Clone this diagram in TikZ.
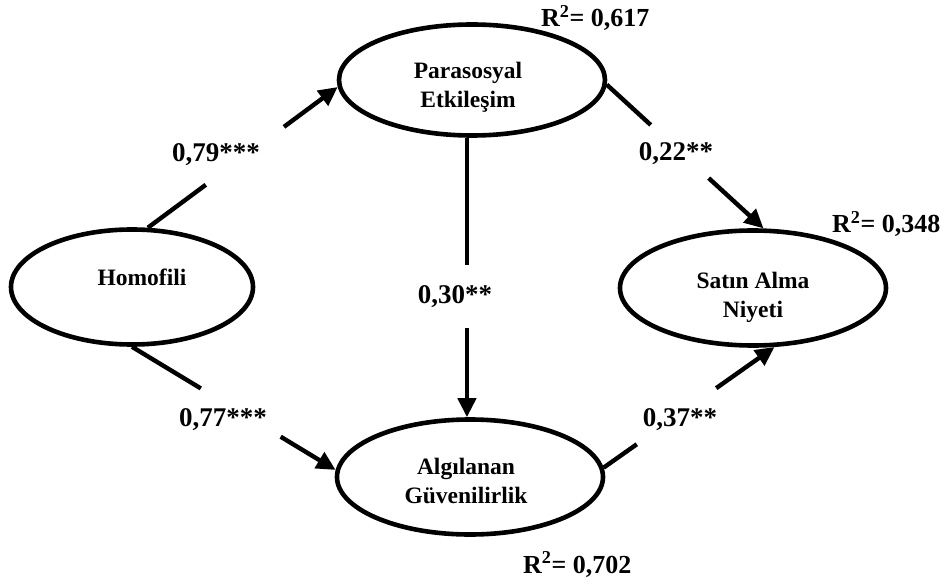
\documentclass[tikz,border=0pt]{standalone}
\usepackage{fontspec}
\setmainfont{Liberation Serif}
\usetikzlibrary{shapes.geometric,arrows.meta}
\begin{document}
\begin{tikzpicture}[x=1pt,y=-1pt,
  latent/.style={draw, ellipse, line width=4.6pt, inner sep=0pt},
  etext/.style={font=\fontsize{23.5}{29}\selectfont\bfseries, align=center},
  coef/.style={font=\fontsize{27}{30}\selectfont\bfseries, anchor=base, inner sep=0pt},
  rsq/.style={font=\fontsize{26}{30}\selectfont\bfseries, anchor=base west, inner sep=0pt},
  conn/.style={line width=4.4pt},
  arr/.style={line width=4.4pt, -{Triangle[length=19pt,width=18pt]}}]
\useasboundingbox (0,0) rectangle (950,585);

\node[latent, minimum width=242pt, minimum height=115pt,
  label={[etext, xshift=10pt, yshift=10pt]center:Homofili}] (h) at (132,287) {};
\node[latent, minimum width=266pt, minimum height=111pt,
  label={[etext, xshift=-4pt, yshift=-7pt]center:Parasosyal\\Etkileşim}] (p) at (472,80) {};
\node[latent, minimum width=266pt, minimum height=115pt,
  label={[etext, xshift=-4pt, yshift=-4pt]center:Algılanan\\Güvenilirlik}] (a) at (470,477) {};
\node[latent, minimum width=266pt, minimum height=115pt,
  label={[etext, yshift=-9pt]center:Satın Alma\\Niyeti}] (s) at (753,288) {};

% Homofili -> Parasosyal
\path (h.75) -- (p.183) coordinate[pos=0.305] (g1a) coordinate[pos=0.717] (g1b);
\draw[conn] (h.75) -- (g1a);
\draw[arr] (g1b) -- (p.183);
% Homofili -> Algilanan
\path (h.270) -- (a.177) coordinate[pos=0.338] (g2a) coordinate[pos=0.73] (g2b);
\draw[conn] (h.270) -- (g2a);
\draw[arr] (g2b) -- (a.177);
% Parasosyal -> Algilanan
\coordinate (pe) at (p.265 |- a.north);
\path (p.265) -- (pe) coordinate[pos=0.457] (g3a) coordinate[pos=0.682] (g3b);
\draw[conn] (p.265) -- (g3a);
\draw[arr] (g3b) -- (pe);
% Parasosyal -> Satin
\path (p.358) -- (s.80) coordinate[pos=0.28] (g4a) coordinate[pos=0.65] (g4b);
\draw[conn] (p.358) -- (g4a);
\draw[arr] (g4b) -- (s.80);
% Algilanan -> Satin
\path (a.4) -- (s.290) coordinate[pos=0.194] (g5a) coordinate[pos=0.659] (g5b);
\draw[conn] (a.4) -- (g5a);
\draw[arr] (g5b) -- (s.290);

\node[coef] (c1) at (216,162) {0,79***};
\node[coef] (c2) at (223,426) {0,77***};
\node[coef] (c3) at (455,304) {0,30**};
\node[coef] (c4) at (676,161) {0,22**};
\node[coef] (c5) at (680,426) {0,37**};

\node[rsq] (r1) at (541,27) {R\textsuperscript{2}= 0,617};
\node[rsq] (r2) at (832,233) {R\textsuperscript{2}= 0,348};
\node[rsq] (r3) at (523,573) {R\textsuperscript{2}= 0,702};
\end{tikzpicture}
\end{document}
